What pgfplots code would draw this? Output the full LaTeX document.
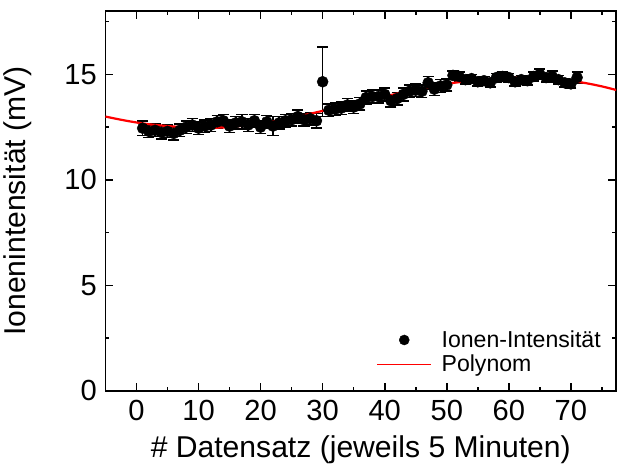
\documentclass[border=0pt]{standalone}
\usepackage{fontspec}
\setmainfont{Liberation Sans}
\usepackage{pgfplots}
\pgfplotsset{compat=1.18}
\usepackage{pgfplotstable}

\pgfplotstableread{
x y e
1 12.45 0.35
2 12.30 0.30
3 12.35 0.30
4 12.25 0.30
5 12.30 0.30
6 12.20 0.30
7 12.35 0.30
8 12.50 0.30
9 12.60 0.30
10 12.45 0.30
11 12.55 0.30
12 12.60 0.30
13 12.75 0.30
14 12.80 0.30
15 12.55 0.30
16 12.70 0.30
17 12.75 0.35
18 12.60 0.30
19 12.80 0.30
20 12.50 0.30
21 12.75 0.30
22 12.55 0.45
23 12.70 0.30
24 12.80 0.30
25 12.85 0.30
26 13.00 0.30
27 12.85 0.30
28 12.90 0.30
29 12.80 0.35
30 14.65 1.65
31 13.30 0.30
32 13.35 0.30
33 13.40 0.30
34 13.55 0.30
35 13.45 0.30
36 13.60 0.30
37 13.90 0.30
38 13.95 0.30
39 13.95 0.30
40 14.05 0.30
41 13.75 0.30
42 13.85 0.30
43 14.05 0.30
44 14.20 0.30
45 14.25 0.30
46 14.20 0.30
47 14.60 0.30
48 14.30 0.30
49 14.45 0.30
50 14.50 0.30
51 14.95 0.20
52 14.90 0.20
53 14.75 0.20
54 14.80 0.20
55 14.65 0.20
56 14.70 0.20
57 14.60 0.20
58 14.85 0.20
59 14.90 0.20
60 14.85 0.20
61 14.65 0.20
62 14.75 0.20
63 14.70 0.20
64 14.90 0.20
65 15.00 0.25
66 14.85 0.20
67 14.90 0.25
68 14.75 0.20
69 14.60 0.20
70 14.55 0.20
71 14.85 0.25
}\datatable

\pgfplotstableread{
x y
-5 13.00
-2.5 12.85
0 12.72
2.5 12.62
5 12.55
7.5 12.50
10 12.47
12.5 12.47
15 12.50
17.5 12.58
20 12.68
22.5 12.80
25 12.95
27.5 13.10
30 13.27
32.5 13.43
35 13.60
37.5 13.78
40 13.95
42.5 14.12
45 14.27
47.5 14.42
50 14.55
52.5 14.65
55 14.73
57.5 14.80
60 14.84
62.5 14.86
65 14.85
67.5 14.80
70 14.70
72.5 14.58
75 14.43
77.3 14.26
}\fittable

\begin{document}
\begin{tikzpicture}
\begin{axis}[
  scale only axis, width=507bp, height=377bp,
  xmin=-5, xmax=77.3, ymin=0, ymax=18,
  xtick={0,10,...,70}, ytick={0,5,10,15},
  minor xtick={-5,5,...,75}, minor ytick={2.5,7.5,12.5,17.5},
  tick align=inside, major tick length=8bp, minor tick length=4bp,
  axis line style={line width=1.6bp},
  every tick/.style={black,line width=1.6bp},
  /pgf/number format/assume math mode=true,
  tick label style={font=\fontsize{29}{30}\selectfont},
  xticklabel style={yshift=-6bp},
  yticklabel style={xshift=-5bp},
  label style={font=\fontsize{30}{32}\selectfont},
  xlabel={\# Datensatz (jeweils 5 Minuten)},
  ylabel={Ionenintensität (mV)},
  xlabel shift=8bp,
  ylabel shift=26bp,
  legend cell align=left,
  legend style={draw=none, fill=none, at={(0.98,0.035)}, anchor=south east,
    font=\fontsize{23}{26}\selectfont, row sep=2bp},
]
\addplot[only marks, mark=*, mark size=5.5bp, black, forget plot,
  error bars/.cd, y dir=both, y explicit,
  error bar style={line width=1.5bp, black},
  error mark options={rotate=90, mark size=5.5bp, line width=1.6bp, black}]
  table[x=x, y=y, y error=e] {\datatable};
\addlegendimage{only marks, mark=*, mark size=5bp, black,
  legend image code/.code={\fill[black] (27bp,0bp) circle (5bp); \path (0bp,0bp) (61bp,0bp);}}
\addplot[red, line width=2.2bp, smooth,
  legend image code/.code={\draw[red, line width=1.3bp] (0bp,0bp) -- (54bp,0bp); \path (61bp,0bp);}]
  table[x=x, y=y] {\fittable};
\legend{Ionen-Intensität, Polynom}
\end{axis}
\path (current axis.north) ++(0,11bp) coordinate (topext);
\path (topext) -- ++(0,-1bp);
\end{tikzpicture}
\end{document}
